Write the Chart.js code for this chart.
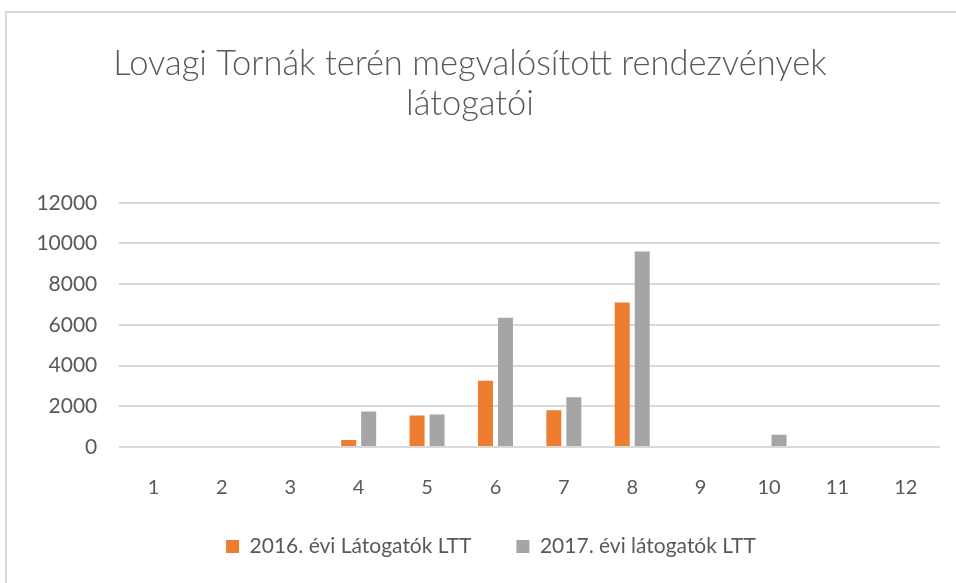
<!DOCTYPE html>
<html>
<head>
<meta charset="utf-8">
<script src="https://cdn.jsdelivr.net/npm/chart.js@4/dist/chart.umd.min.js"></script>
<style>
  html, body { margin: 0; padding: 0; background: #ffffff; }
  #wrap { width: 956px; height: 583px; position: relative; }
</style>
</head>
<body>
<div id="wrap"><canvas id="c" width="956" height="583"></canvas></div>
<script>
const titleLines = ['Lovagi Tornák terén megvalósított rendezvények', 'látogatói'];
const categories = ['1', '2', '3', '4', '5', '6', '7', '8', '9', '10', '11', '12'];
const seriesNames = ['2016. évi Látogatók LTT', '2017. évi látogatók LTT'];
const visitors2016 = [0, 0, 0, 350, 1550, 3250, 1800, 7100, 0, 0, 0, 0];
const visitors2017 = [0, 0, 0, 1750, 1600, 6350, 2450, 9600, 0, 600, 0, 0];
const yTickValues = [0, 2000, 4000, 6000, 8000, 10000, 12000];

const textColor = '#595959';
const gridColor = '#d9d9d9';

const framePlugin = {
  id: 'frame',
  beforeDraw(chart) {
    const ctx = chart.ctx;
    ctx.save();
    ctx.fillStyle = '#ffffff';
    ctx.fillRect(0, 0, chart.width, chart.height);
    ctx.strokeStyle = '#d9d9d9';
    ctx.lineWidth = 2;
    ctx.beginPath();
    ctx.moveTo(6, chart.height + 2);
    ctx.lineTo(6, 12);
    ctx.lineTo(chart.width + 2, 12);
    ctx.stroke();
    ctx.restore();
  }
};

const legendShift = {
  id: 'legendShift',
  afterLayout(chart) {
    const lg = chart.legend;
    if (lg) {
      lg.left += 21;
      lg.right += 21;
      lg.top -= 16;
      lg.bottom -= 16;
    }
  }
};

new Chart(document.getElementById('c'), {
  type: 'bar',
  data: {
    labels: categories,
    datasets: [
      { label: seriesNames[0], data: visitors2016, backgroundColor: '#ed7d31', borderWidth: 0 },
      { label: seriesNames[1], data: visitors2017, backgroundColor: '#a5a5a5', borderWidth: 0 }
    ]
  },
  options: {
    responsive: false,
    animation: false,
    devicePixelRatio: 1,
    datasets: { bar: { categoryPercentage: 0.585, barPercentage: 0.75 } },
    layout: { padding: { left: 0, right: 16, top: 0, bottom: 10 } },
    plugins: {
      title: {
        display: true,
        text: titleLines,
        color: textColor,
        font: { family: 'Lato', size: 34.5, weight: '300', lineHeight: 1.16 },
        padding: { top: 44, bottom: 78.7 }
      },
      legend: {
        display: true,
        position: 'bottom',
        maxHeight: 66,
        labels: {
          color: textColor,
          font: { family: 'Lato', size: 21 },
          boxWidth: 13,
          boxHeight: 13,
          padding: 45
        }
      },
      tooltip: { enabled: false }
    },
    scales: {
      x: {
        grid: { display: false },
        border: { display: false },
        ticks: { color: textColor, font: { family: 'Lato', size: 20 }, padding: 21, maxRotation: 0 },
        afterFit(axis) { axis.height = 60; }
      },
      y: {
        min: 0,
        max: 12000,
        afterBuildTicks(axis) { axis.ticks = yTickValues.map(v => ({ value: v })); },
        grid: { color: gridColor, lineWidth: 2, drawTicks: false },
        border: { display: false },
        ticks: {
          color: textColor,
          font: { family: 'Lato', size: 21 },
          padding: 22,
          callback: (v) => String(v)
        },
        afterFit(axis) { axis.width = 119.3; }
      }
    }
  },
  plugins: [framePlugin, legendShift]
});
</script>
</body>
</html>
